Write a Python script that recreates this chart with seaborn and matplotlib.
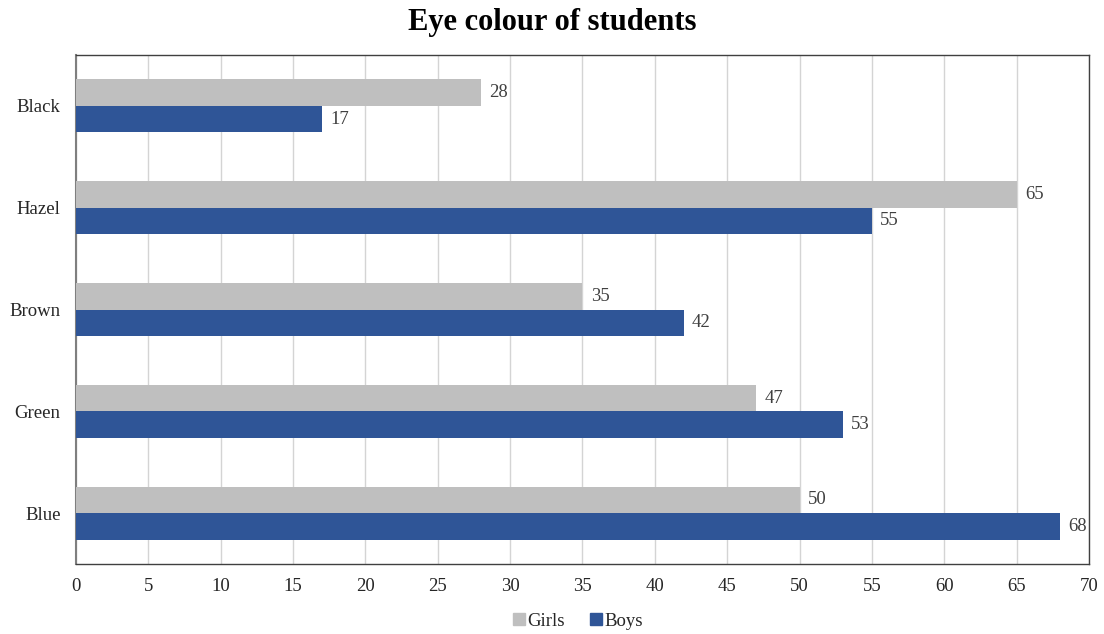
import matplotlib
matplotlib.use("Agg")
import matplotlib.pyplot as plt
import seaborn as sns
import pandas as pd
from matplotlib.lines import Line2D

# Eye colour counts per group
eye_colours = ["Black", "Hazel", "Brown", "Green", "Blue"]
girls = [28, 65, 35, 47, 50]
boys = [17, 55, 42, 53, 68]
groups = ["Girls", "Boys"]
palette = {"Girls": "#BFBFBF", "Boys": "#2F5597"}

df = pd.DataFrame({
    "Eye colour": eye_colours * 2,
    "Count": girls + boys,
    "Group": ["Girls"] * len(eye_colours) + ["Boys"] * len(eye_colours),
})

sns.set_theme(style="white")
plt.rcParams["font.family"] = ["Liberation Serif", "DejaVu Serif"]

fig = plt.figure(figsize=(11.04, 6.34), dpi=100)
ax = fig.add_axes([0.0688, 0.1104, 0.9176, 0.8028])

sns.barplot(data=df, x="Count", y="Eye colour", hue="Group", hue_order=groups,
            order=eye_colours, palette=palette, orient="h", width=0.52,
            dodge=True, saturation=1, ax=ax, legend=False, zorder=3,
            linewidth=0, edgecolor="none")

for container in ax.containers:
    ax.bar_label(container, fmt="%d", padding=6, fontsize=13.5, color="#404040")

ax.set_xlim(0, 70)
ax.set_ylim(4.5, -0.5)
ax.set_xticks(range(0, 71, 5))
ax.xaxis.grid(True, color="#D4D4D4", linewidth=1, zorder=0)
ax.yaxis.grid(False)
ax.set_axisbelow(True)
ax.set_xlabel("")
ax.set_ylabel("")
ax.tick_params(axis="both", labelsize=13.5, colors="#262626", length=0)
ax.tick_params(axis="y", pad=11)
ax.tick_params(axis="x", pad=10)

for side in ["top", "right", "bottom"]:
    ax.spines[side].set_color("#404040")
    ax.spines[side].set_linewidth(1)
ax.spines["left"].set_color("#7F7F7F")
ax.spines["left"].set_linewidth(1.5)

fig.suptitle("Eye colour of students", fontsize=22, fontweight="bold",
             color="black", y=0.988)

handles = [Line2D([0], [0], marker="s", linestyle="", markersize=8,
                  markerfacecolor=palette[g], markeredgecolor=palette[g])
           for g in groups]
fig.legend(handles, groups, loc="lower center", ncol=2, frameon=False,
           fontsize=13.5, bbox_to_anchor=(0.523, -0.02), handlelength=0.7,
           handletextpad=0.1, columnspacing=1.3)

fig.savefig("out.png", dpi=100)
